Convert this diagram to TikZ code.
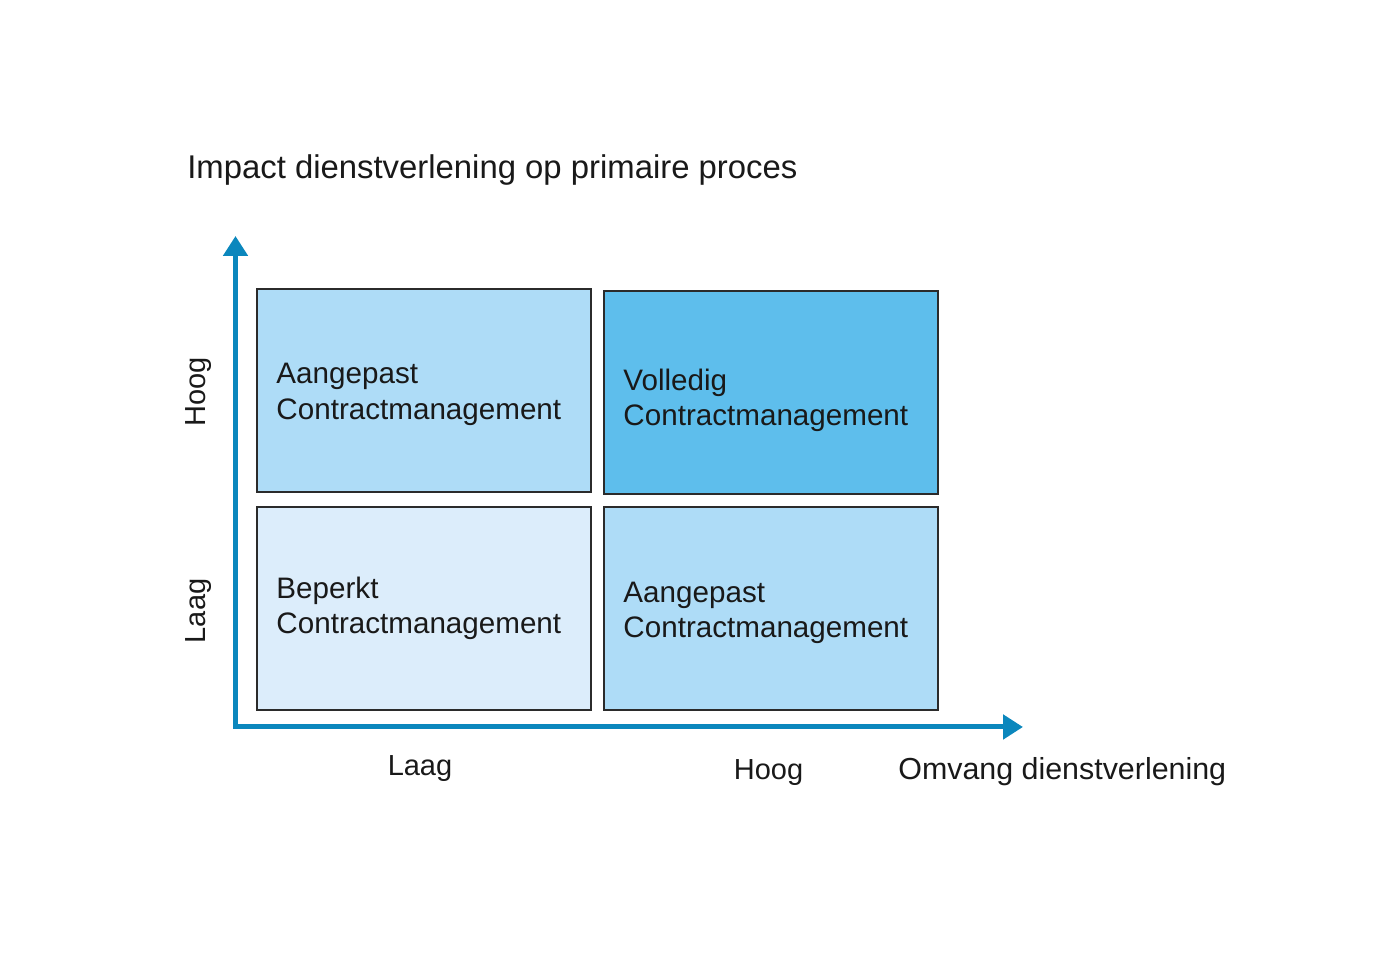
\documentclass[tikz,border=0pt]{standalone}
\usepackage{fontspec}
\setmainfont{Liberation Sans}
\usepackage{tikz}
\usetikzlibrary{arrows.meta,positioning}

\definecolor{axisblue}{HTML}{0B87BD}
\definecolor{quadlight}{HTML}{DCEDFB}
\definecolor{quadmid}{HTML}{AEDCF7}
\definecolor{quaddark}{HTML}{5EBEEC}
\definecolor{quadline}{HTML}{2B2B2B}

\begin{document}
\begin{tikzpicture}[
  quad/.style={draw=quadline, line width=1pt, minimum width=6.68cm, minimum height=4.06cm},
  quadtext/.style={anchor=west, inner sep=0pt, align=left,
    font=\fontsize{16.85pt}{20.3pt}\selectfont, text=black!90},
  axislabel/.style={font=\fontsize{16.5pt}{19.8pt}\selectfont, text=black!90}
]
\useasboundingbox (0,0) rectangle (27.7,19.58);

% title
\node [anchor=base west, font=\fontsize{18.7pt}{22pt}\selectfont, text=black!90, inner sep=0pt] (title) at (3.74,16.0) {Impact dienstverlening op primaire proces};

% the four quadrants
\node [quad, fill=quadmid] (hooglaag) at (8.48,11.77) {};
\node [quad, fill=quaddark] (hooghoog) at (15.42,11.73) {};
\node [quad, fill=quadlight] (laaglaag) at (8.48,7.41) {};
\node [quad, fill=quadmid] (laaghoog) at (15.42,7.41) {};

\node [quadtext] (hooglaagtext) at ([xshift=0.4cm,yshift=-0.08cm]hooglaag.west) {Aangepast\\Contractmanagement};
\node [quadtext] (hooghoogtext) at ([xshift=0.4cm,yshift=-0.16cm]hooghoog.west) {Volledig\\Contractmanagement};
\node [quadtext] (laaglaagtext) at ([xshift=0.4cm,yshift=0cm]laaglaag.west) {Beperkt\\Contractmanagement};
\node [quadtext] (laaghoogtext) at ([xshift=0.4cm,yshift=-0.09cm]laaghoog.west) {Aangepast\\Contractmanagement};

% axes
\coordinate (origin) at (4.71,5.04);
\coordinate (ytip) at (4.71,14.86);
\coordinate (xtip) at (20.46,5.04);
\draw [axisblue, line width=2.85pt, line join=miter,
  {Triangle[length=0.4cm,width=0.48cm]}-{Triangle[length=0.4cm,width=0.48cm]}] (ytip) -- (origin) -- (xtip);

% axis labels
\node [axislabel, rotate=90, anchor=base, inner sep=0pt] (yhoog) at (4.10,11.74) {Hoog};
\node [axislabel, rotate=90, anchor=base, inner sep=0pt] (ylaag) at (4.10,7.36) {Laag};
\node [axislabel, anchor=base, inner sep=0pt] (xlaag) at (8.40,4.07) {Laag};
\node [axislabel, anchor=base, inner sep=0pt] (xhoog) at (15.37,3.99) {Hoog};
\node [anchor=base west, inner sep=0pt, font=\fontsize{17.3pt}{20.8pt}\selectfont, text=black!90] (xname) at (17.96,3.99) {Omvang dienstverlening};

\end{tikzpicture}
\end{document}
